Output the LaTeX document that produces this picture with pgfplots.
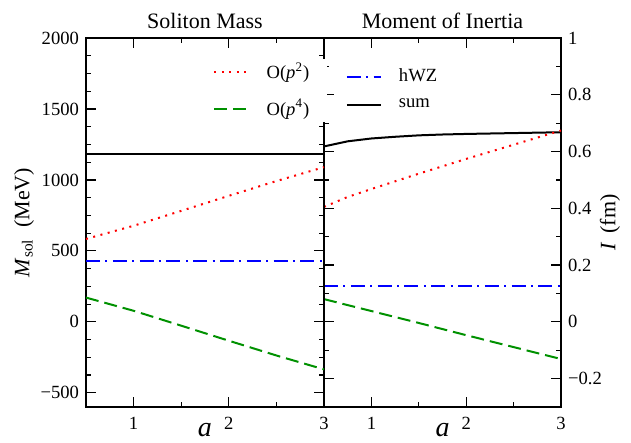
\documentclass[border=0pt]{standalone}
\usepackage{fontspec}
\setmainfont{Liberation Serif}
\usepackage{pgfplots}
\pgfplotsset{compat=1.18}

\definecolor{grgreen}{RGB}{0,145,0}

% 1 px of the reference = 0.5pt
\pgfplotsset{
  panel/.style={
    scale only axis, height=184.5pt,
    xmin=0.5, xmax=3, xtick={1,2,3}, xticklabels={1,2,3}, minor x tick num=1,
    tick align=inside, major tick length=5pt, minor tick length=2.5pt,
    axis line style={line width=0.8pt},
    every tick/.style={black, line width=0.6pt},
    tick label style={font=\fontsize{9.3}{11}\selectfont},
    xticklabel style={yshift=-1.5pt},
    label style={font=\fontsize{11}{13}\selectfont},
    title style={font=\fontsize{11}{13}\selectfont, yshift=-5pt},
    xlabel={\textit{a}},
    xlabel style={font=\fontsize{14}{16}\selectfont,
      at={(rel axis cs:0.5,0)}, anchor=center, yshift=-11.5pt},
    legend cell align=left,
    legend image code/.code={
      \draw[mark repeat=2,mark phase=2,##1] plot coordinates {(0cm,0cm) (0.3cm,0cm) (0.6cm,0cm)};
      \path (0.6cm+6.5pt,0cm);
    },
  },
  p2/.style={red, line width=1pt, dash pattern=on 1pt off 2.75pt},
  p4/.style={grgreen, line width=1pt, dash pattern=on 6.5pt off 3pt},
  hwz/.style={blue, line width=1pt, dash pattern=on 7pt off 2.7pt on 1pt off 2.7pt},
  sum/.style={black, line width=1pt},
}

\begin{document}
\begin{tikzpicture}
\useasboundingbox (-43pt,-18pt) rectangle (272.5pt,203.5pt);

% right panel: moment of inertia
\begin{axis}[panel, name=moi, at={(119pt,0pt)}, anchor=south west,
  width=118.5pt,
  title={Moment of Inertia},
  ymin=-0.3, ymax=1,
  ytick={-0.2,0,0.2,0.4,0.6,0.8,1},
  yticklabels={−0.2,0,0.2,0.4,0.6,0.8,1},
  minor y tick num=1,
  yticklabel pos=right,
  ylabel={\textit{I}\, (fm)},
  ylabel style={at={(rel axis cs:1,0.5)}, anchor=center, rotate=0, yshift=-24.5pt},
  legend style={draw=none, fill=none, at={(0.065,0.939)}, anchor=north west,
    row sep=3pt, font=\fontsize{9.3}{11}\selectfont},
]
\addplot[hwz] coordinates {(0.5,0.127) (3,0.127)};
\addlegendentry{hWZ}
\addplot[sum] coordinates {
(0.5,0.618) (0.75,0.636) (1.0,0.646) (1.25,0.652) (1.5,0.657)
(1.75,0.660) (2.0,0.662) (2.5,0.665) (3.0,0.668)};
\addlegendentry{sum}
\addplot[p2, forget plot] coordinates {
(0.5,0.405) (0.75,0.440) (1.0,0.468) (1.5,0.522) (2.0,0.574) (2.5,0.624) (3.0,0.674)};
\addplot[p4, forget plot] coordinates {
(0.5,0.080) (1.0,0.038) (1.5,-0.004) (2.0,-0.047) (2.5,-0.089) (3.0,-0.131)};
\end{axis}

% left panel: soliton mass
\begin{axis}[panel, name=mass, at={(0pt,0pt)}, anchor=south west,
  width=119pt,
  title={Soliton Mass},
  ymin=-600, ymax=2000,
  ytick={-500,0,500,1000,1500,2000},
  yticklabels={−500,0,500,1000,1500,2000},
  minor y tick num=3,
  ylabel={\textit{M}\textsubscript{sol}\ \ (MeV)},
  ylabel style={at={(rel axis cs:0,0.5)}, anchor=center, yshift=31pt},
  legend style={draw=none, fill=white, inner xsep=7pt, inner ysep=0pt,
    at={(0.475,0.945)}, anchor=north west, row sep=4.5pt,
    font=\fontsize{9.3}{11}\selectfont},
]
\addplot[p2] coordinates {
(0.5,584) (1.0,677) (1.5,782) (2.0,888) (2.5,992) (3.0,1090)};
\addlegendentry{O(\textit{p}\textsuperscript{2})}
\addplot[p4] coordinates {
(0.5,171) (1.0,78) (1.5,-27) (2.0,-133) (2.5,-237) (3.0,-335)};
\addlegendentry{O(\textit{p}\textsuperscript{4})}
\addplot[hwz, forget plot] coordinates {(0.5,428) (3,428)};
\addplot[sum, forget plot] coordinates {(0.5,1183) (3,1183)};
\end{axis}
\end{tikzpicture}
\end{document}
